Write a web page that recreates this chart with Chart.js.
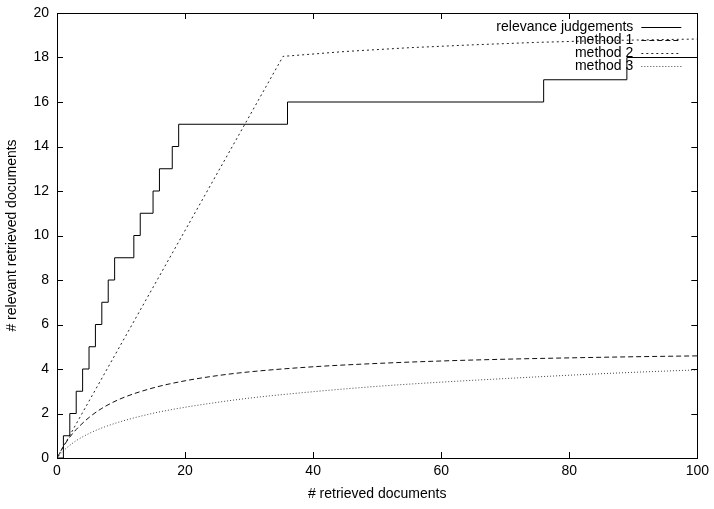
<!DOCTYPE html>
<html>
<head>
<meta charset="utf-8">
<script src="https://cdn.jsdelivr.net/npm/chart.js@4/dist/chart.umd.min.js"></script>
<style>
  html, body { margin: 0; padding: 0; background: #fff; }
  #wrap { width: 714px; height: 509px; }
</style>
</head>
<body>
<div id="wrap"><canvas id="myChart"></canvas></div>
<script>
// data

let seriesNames = ["relevance judgements", "method 1", "method 2", "method 3"];

// relevance judgements (step function)
let judgeX = [0, 1, 2, 3, 4, 5, 6, 7, 8, 9, 12, 13, 15, 16, 18, 19, 36, 76, 89, 100];
let judgeY = [0, 1, 2, 3, 4, 5, 6, 7, 8, 9, 10, 11, 12, 13, 14, 15, 16, 17, 18, 18];

// method 1 and method 3 curves
let curveX = [0, 1, 2, 3, 5, 7, 10, 15, 20, 25, 30, 40, 50, 60, 70, 80, 90, 100];
let method1 = [0, 0.52, 0.94, 1.28, 1.82, 2.23, 2.67, 3.15, 3.47, 3.7, 3.87, 4.1, 4.25, 4.36, 4.44, 4.5, 4.55, 4.59];
let method3 = [0, 0.32, 0.57, 0.78, 1.1, 1.35, 1.64, 2.01, 2.28, 2.5, 2.69, 2.98, 3.22, 3.41, 3.57, 3.72, 3.85, 3.96];

// method 2
let method2X = [0, 35.3, 45, 55, 65, 75, 85, 100];
let method2 = [0, 18.05, 18.27, 18.44, 18.57, 18.68, 18.76, 18.83];

let xTicks = [0, 20, 40, 60, 80, 100];
let yTicks = [0, 2, 4, 6, 8, 10, 12, 14, 16, 18, 20];

let font = "'Liberation Sans', Arial, sans-serif";

function points(xs, ys) {
  return xs.map(function (x, i) { return { x: x, y: ys[i] }; });
}

// frame, inward ticks on all four sides, gnuplot style key
let framePlugin = {
  id: "frame",
  afterDatasetsDraw: function (chart) {
    let ctx = chart.ctx;
    let a = chart.chartArea;
    let sx = chart.scales.x;
    let sy = chart.scales.y;
    let tl = 6;
    ctx.save();
    ctx.strokeStyle = "#000";
    ctx.lineWidth = 1;
    ctx.beginPath();
    xTicks.forEach(function (v) {
      let px = Math.round(sx.getPixelForValue(v)) + 0.5;
      ctx.moveTo(px, a.bottom);
      ctx.lineTo(px, a.bottom - tl);
      ctx.moveTo(px, a.top);
      ctx.lineTo(px, a.top + tl);
    });
    yTicks.forEach(function (v) {
      let py = Math.round(sy.getPixelForValue(v)) + 0.5;
      ctx.moveTo(a.left, py);
      ctx.lineTo(a.left + tl, py);
      ctx.moveTo(a.right, py);
      ctx.lineTo(a.right - tl, py);
    });
    ctx.stroke();
    ctx.strokeRect(Math.round(a.left) + 0.5, Math.round(a.top) + 0.5,
      Math.round(a.right - a.left), Math.round(a.bottom - a.top));

    // key
    ctx.font = "14px " + font;
    ctx.textAlign = "right";
    ctx.textBaseline = "middle";
    chart.data.datasets.forEach(function (ds, i) {
      let y = a.top + 14 + i * 13;
      ctx.fillStyle = "#000";
      ctx.fillText(ds.label, a.right - 64, y);
      ctx.strokeStyle = ds.borderColor;
      ctx.setLineDash(ds.borderDash || []);
      ctx.beginPath();
      ctx.moveTo(a.right - 56, Math.round(y) + 0.5);
      ctx.lineTo(a.right - 16, Math.round(y) + 0.5);
      ctx.stroke();
    });
    ctx.restore();
  }
};

let myChart = document.getElementById("myChart").getContext("2d");

let recallChart = new Chart(myChart, {
  type: "line",
  data: {
    datasets: [
      {
        label: seriesNames[0],
        data: points(judgeX, judgeY),
        stepped: "before",
        borderColor: "#000",
        borderWidth: 1,
        pointRadius: 0,
      },
      {
        label: seriesNames[1],
        data: points(curveX, method1),
        cubicInterpolationMode: "monotone",
        borderColor: "#111",
        borderDash: [5, 3],
        borderWidth: 1,
        pointRadius: 0,
      },
      {
        label: seriesNames[2],
        data: points(method2X, method2),
        borderColor: "#222",
        borderDash: [2, 3],
        borderWidth: 1,
        pointRadius: 0,
      },
      {
        label: seriesNames[3],
        data: points(curveX, method3),
        cubicInterpolationMode: "monotone",
        borderColor: "#444",
        borderDash: [1, 2],
        borderWidth: 1,
        pointRadius: 0,
      },
    ],
  },
  options: {
    responsive: true,
    maintainAspectRatio: false,
    animation: false,
    layout: { padding: { top: 13, right: 16, left: 0, bottom: 0 } },
    plugins: {
      legend: { display: false },
      tooltip: { enabled: false },
    },
    scales: {
      x: {
        type: "linear",
        min: 0,
        max: 100,
        grid: { display: false, drawTicks: false },
        border: { display: false },
        afterBuildTicks: function (scale) {
          scale.ticks = xTicks.map(function (v) { return { value: v }; });
        },
        afterFit: function (scale) { scale.height = 51; },
        ticks: { color: "#000", padding: 5, maxRotation: 0, font: { family: font, size: 14 } },
        title: {
          display: true,
          text: "# retrieved documents",
          color: "#000",
          padding: { top: 0, bottom: 6 },
          font: { family: font, size: 14 },
        },
      },
      y: {
        type: "linear",
        min: 0,
        max: 20,
        grid: { display: false, drawTicks: false },
        border: { display: false },
        afterBuildTicks: function (scale) {
          scale.ticks = yTicks.map(function (v) { return { value: v }; });
        },
        afterFit: function (scale) {
          scale.width = 57;
          scale.paddingTop = 0;
          scale.paddingBottom = 0;
        },
        ticks: { color: "#000", padding: 8, font: { family: font, size: 14 } },
        title: {
          display: true,
          text: "# relevant retrieved documents",
          color: "#000",
          padding: { top: 4, bottom: 0 },
          font: { family: font, size: 14 },
        },
      },
    },
  },
  plugins: [framePlugin],
});
</script>
</body>
</html>
